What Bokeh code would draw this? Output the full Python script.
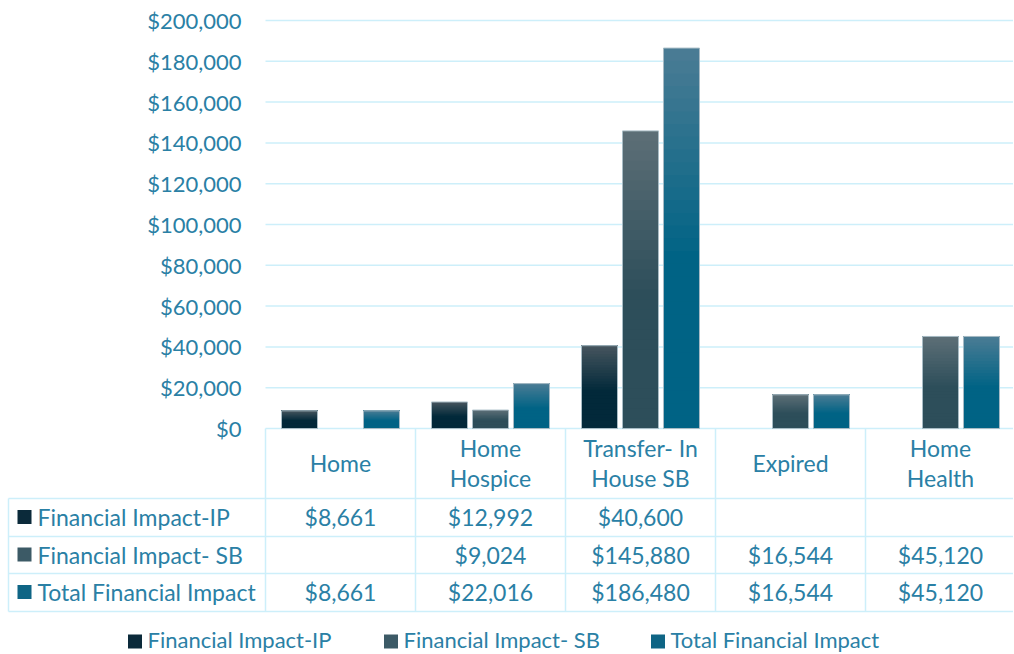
from bokeh.plotting import figure
from bokeh.models import Range1d, ColumnDataSource
from bokeh.core.properties import value
from bokeh.embed import file_html
from bokeh.resources import INLINE

# ---------------- data ----------------
categories = ["Home", "Home Hospice", "Transfer- In House SB", "Expired", "Home Health"]
header_lines = [["Home"], ["Home", "Hospice"], ["Transfer- In", "House SB"], ["Expired"], ["Home", "Health"]]
series_names = ["Financial Impact-IP", "Financial Impact- SB", "Total Financial Impact"]
impact_ip = [8661, 12992, 40600, None, None]
impact_sb = [None, 9024, 145880, 16544, 45120]
total_impact = [8661, 22016, 186480, 16544, 45120]
y_ticks = [0, 20000, 40000, 60000, 80000, 100000, 120000, 140000, 160000, 180000, 200000]
y_max = 200000

series_values = [impact_ip, impact_sb, total_impact]
base_colors = ["#02293a", "#2d4e5a", "#006385"]
top_colors = ["#46555e", "#5d6f77", "#4b7c94"]
legend_colors = ["#0b2a3a", "#3c5a66", "#0f6585"]

FONT = value("Lato")
FS = "23px"
TXT = "#2a80a5"
GRID = "#cdeffa"

# ---------------- layout (pixels) ----------------
W, H = 1013, 654
PLOT_L, PLOT_T, PLOT_B = 265, 20, 428
COL_W = 150
px_per_val = (PLOT_B - PLOT_T) / y_max

p = figure(width=W, height=H, x_range=Range1d(0, W), y_range=Range1d(H, 0),
           output_backend="svg", toolbar_location=None, x_axis_location=None,
           y_axis_location=None, min_border=0)
p.outline_line_color = None
p.xgrid.grid_line_color = None
p.ygrid.grid_line_color = None

# value scale (y) and category scale (x) mapped onto the chart region
p.extra_y_ranges = {"val": Range1d(-(H - PLOT_B) / px_per_val, y_max + PLOT_T / px_per_val)}
p.extra_x_ranges = {"cat": Range1d(-PLOT_L / COL_W, (W - PLOT_L) / COL_W)}

# gridlines and y tick labels
fmt = "${:,}"
p.segment(x0=[PLOT_L] * len(y_ticks), x1=[W] * len(y_ticks), y0=y_ticks, y1=y_ticks,
          y_range_name="val", line_color=GRID, line_width=1.5)
p.text(x=[PLOT_L - 24] * len(y_ticks), y=y_ticks, text=[fmt.format(v) for v in y_ticks],
       y_range_name="val", text_align="right", text_baseline="middle",
       text_font=FONT, text_font_size="22px", text_color=TXT)


def hex2rgb(h):
    return tuple(int(h[i:i + 2], 16) for i in (1, 3, 5))


def lerp(c1, c2, t):
    a, b = hex2rgb(c1), hex2rgb(c2)
    return "#%02x%02x%02x" % tuple(int(round(a[k] + (b[k] - a[k]) * t)) for k in range(3))


N = 30
BAR_W = 0.24
offsets = [-0.2733, 0.0, 0.2733]
for s, vals in enumerate(series_values):
    xs, bots, tops, cols = [], [], [], []
    ox, ot = [], []
    for i, v in enumerate(vals):
        if v is None:
            continue
        xc = i + 0.5 + offsets[s]
        ox.append(xc); ot.append(v)
        for k in range(N):
            f = (k + 0.5) / N
            t = max(0.0, (f - 0.45) / 0.55)
            xs.append(xc)
            bots.append(v * k / N)
            tops.append(v)
            cols.append(lerp(base_colors[s], top_colors[s], t))
    src = ColumnDataSource(dict(x=xs, bottom=bots, top=tops, color=cols))
    p.vbar(x="x", width=BAR_W, bottom="bottom", top="top", fill_color="color", line_color=None,
           source=src, x_range_name="cat", y_range_name="val")
    p.vbar(x=ox, width=BAR_W, bottom=0, top=ot, fill_color=None, line_color="#a8bcc5",
           line_width=1, x_range_name="cat", y_range_name="val")

# ---------------- data table ----------------
n = len(categories)
centers = [PLOT_L + COL_W * (i + 0.5) for i in range(n)]
row_lines = [498, 536, 573, 611]
row_mid = [516.5, 554, 591.5]
TBL_L = 8

p.segment(x0=[TBL_L] * len(row_lines), y0=row_lines, x1=[W] * len(row_lines), y1=row_lines,
          line_color=GRID, line_width=1.5)
p.segment(x0=[TBL_L], y0=[row_lines[0]], x1=[TBL_L], y1=[row_lines[-1]], line_color=GRID, line_width=1.5)
vx = [PLOT_L + COL_W * i for i in range(n)]
p.segment(x0=vx, y0=[PLOT_B] * n, x1=vx, y1=[row_lines[-1]] * n, line_color=GRID, line_width=1.5)

hx, hy, ht = [], [], []
for c, lines in zip(centers, header_lines):
    if len(lines) == 1:
        hx.append(c); hy.append(462); ht.append(lines[0])
    else:
        hx += [c, c]; hy += [447, 477]; ht += lines
p.text(x=hx, y=hy, text=ht, text_align="center", text_baseline="middle",
       text_font=FONT, text_font_size=FS, text_color=TXT)

for r, (name, vals) in enumerate(zip(series_names, series_values)):
    y = row_mid[r]
    p.scatter(x=[24], y=[y], marker="square", size=14, fill_color=legend_colors[r], line_color=None)
    p.text(x=[37], y=[y], text=[name], text_align="left", text_baseline="middle",
           text_font=FONT, text_font_size=FS, text_color=TXT)
    vx_, vt_ = [], []
    for c, v in zip(centers, vals):
        if v is not None:
            vx_.append(c); vt_.append(fmt.format(v))
    p.text(x=vx_, y=[y] * len(vx_), text=vt_, text_align="center", text_baseline="middle",
           text_font=FONT, text_font_size=FS, text_color=TXT)

# ---------------- legend ----------------
leg_text_x = [147, 403, 670]
for r, name in enumerate(series_names):
    p.scatter(x=[leg_text_x[r] - 12.5], y=[641], marker="square", size=14,
              fill_color=legend_colors[r], line_color=None)
    p.text(x=[leg_text_x[r]], y=[639], text=[name], text_align="left", text_baseline="middle",
           text_font=FONT, text_font_size="22px", text_color=TXT)

open("out.html", "w").write(file_html(p, INLINE))
